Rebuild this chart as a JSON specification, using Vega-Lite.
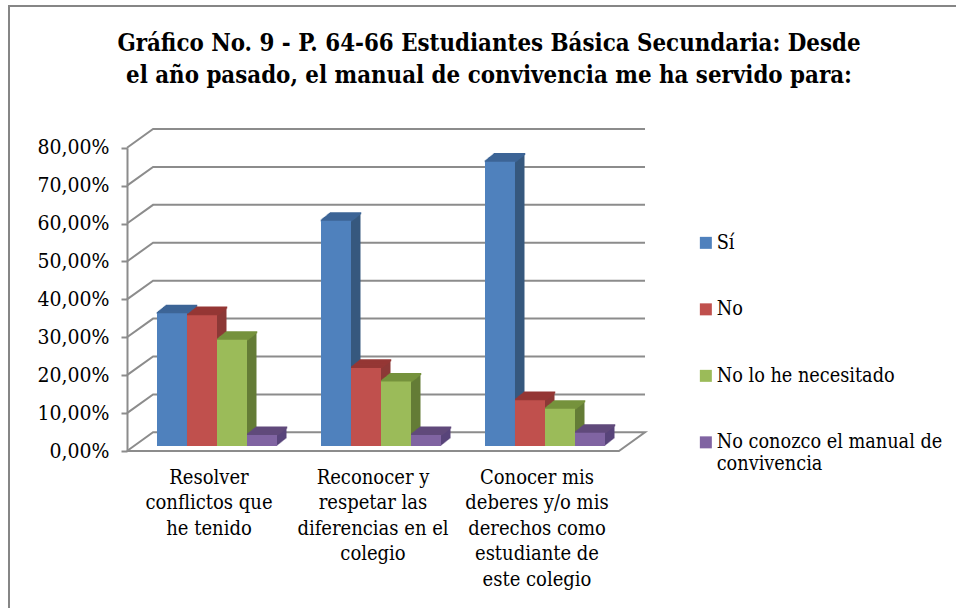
{"$schema":"https://vega.github.io/schema/vega-lite/v6.json","autosize":"none","width":949,"height":604,"padding":{"left":9,"top":6,"right":0,"bottom":0},"background":"white","view":{"stroke":"#868686","strokeWidth":2},
"title":{"text":["Gráfico No. 9 - P. 64-66 Estudiantes Básica Secundaria: Desde","el año pasado, el manual de convivencia me ha servido para:"],"font":"DejaVu Serif Condensed","fontSize":23.8,"fontWeight":"bold","color":"#000000","lineHeight":32,"anchor":"middle","dx":5.5,"offset":-82,"baseline":"top"},
"datasets":{"bars":[
{"c":"Resolver conflictos que he tenido","s":"Sí","v":35},{"c":"Resolver conflictos que he tenido","s":"No","v":34.5},{"c":"Resolver conflictos que he tenido","s":"No lo he necesitado","v":28},{"c":"Resolver conflictos que he tenido","s":"No conozco el manual de convivencia","v":2.9},
{"c":"Reconocer y respetar las diferencias en el colegio","s":"Sí","v":59.4},{"c":"Reconocer y respetar las diferencias en el colegio","s":"No","v":20.6},{"c":"Reconocer y respetar las diferencias en el colegio","s":"No lo he necesitado","v":17},{"c":"Reconocer y respetar las diferencias en el colegio","s":"No conozco el manual de convivencia","v":2.9},
{"c":"Conocer mis deberes y/o mis derechos como estudiante de este colegio","s":"Sí","v":75},{"c":"Conocer mis deberes y/o mis derechos como estudiante de este colegio","s":"No","v":12.1},{"c":"Conocer mis deberes y/o mis derechos como estudiante de este colegio","s":"No lo he necesitado","v":9.8},{"c":"Conocer mis deberes y/o mis derechos como estudiante de este colegio","s":"No conozco el manual de convivencia","v":3.5}],
"wall":[
{"t":"10","o":1,"a":0,"b":10},{"t":"10","o":2,"a":5.3,"b":14.93},{"t":"10","o":3,"a":105.3,"b":14.93},
{"t":"20","o":1,"a":0,"b":20},{"t":"20","o":2,"a":5.3,"b":24.93},{"t":"20","o":3,"a":105.3,"b":24.93},
{"t":"30","o":1,"a":0,"b":30},{"t":"30","o":2,"a":5.3,"b":34.93},{"t":"30","o":3,"a":105.3,"b":34.93},
{"t":"40","o":1,"a":0,"b":40},{"t":"40","o":2,"a":5.3,"b":44.93},{"t":"40","o":3,"a":105.3,"b":44.93},
{"t":"50","o":1,"a":0,"b":50},{"t":"50","o":2,"a":5.3,"b":54.93},{"t":"50","o":3,"a":105.3,"b":54.93},
{"t":"60","o":1,"a":0,"b":60},{"t":"60","o":2,"a":5.3,"b":64.93},{"t":"60","o":3,"a":105.3,"b":64.93},
{"t":"70","o":1,"a":0,"b":70},{"t":"70","o":2,"a":5.3,"b":74.93},{"t":"70","o":3,"a":105.3,"b":74.93},
{"t":"80","o":1,"a":0,"b":80},{"t":"80","o":2,"a":5.3,"b":84.93},{"t":"80","o":3,"a":105.3,"b":84.93},
{"t":"0","o":1,"a":0,"b":0},{"t":"0","o":2,"a":100,"b":0},{"t":"0","o":3,"a":105.3,"b":4.93},{"t":"0","o":4,"a":5.3,"b":4.93},{"t":"0","o":5,"a":0,"b":0}]},
"resolve":{"scale":{"x":"independent"}},
"layer":[
{"data":{"name":"wall"},"mark":{"type":"line","color":"#8c8c8c","strokeWidth":2,"clip":false},"encoding":{"x":{"field":"a","type":"quantitative","scale":{"domain":[0,105.3],"range":[118,636],"nice":false,"zero":false},"axis":null},"y":{"field":"b","type":"quantitative","scale":{"domain":[0,80],"range":[445,141.7],"nice":false},"axis":{"title":null,"orient":"left","offset":-118,"values":[0,10,20,30,40,50,60,70,80],"grid":false,"domainColor":"#8c8c8c","domainWidth":2,"tickColor":"#8c8c8c","tickWidth":2,"tickSize":6,"labelPadding":12,"labelFont":"DejaVu Serif Condensed","labelFontSize":21,"labelColor":"#000000","labelExpr":"replace(format(datum.value,'.2f'),'.',',')+'%'"}},"detail":{"field":"t"},"order":{"field":"o","type":"quantitative"}}},
{"data":{"name":"bars"},"resolve":{"scale":{"x":"independent"}},
"encoding":{
"xOffset":{"field":"s","type":"nominal","sort":null,"scale":{"domain":["Sí","No","No lo he necesitado","No conozco el manual de convivencia"],"range":[0,164],"paddingInner":0,"paddingOuter":0.7333}},
"y":{"field":"v","type":"quantitative"}},
"layer":[
{"mark":{"type":"bar","yOffset":-12.6},"encoding":{"fill":{"field":"s","type":"nominal","scale":{"domain":["No","Sí","No lo he necesitado","No conozco el manual de convivencia"],"range":["#8c3836","#37587f","#647c36","#58447a"]},"legend":null},"x":{"field":"c","type":"nominal","sort":null,"axis":null,"scale":{"range":[135.5,627.5],"paddingInner":0,"paddingOuter":0}}}},
{"mark":{"type":"bar","yOffset":-11.8},"encoding":{"fill":{"field":"s","type":"nominal","legend":null},"x":{"field":"c","type":"nominal","sort":null,"axis":null,"scale":{"range":[134.5,626.5],"paddingInner":0,"paddingOuter":0}}}},
{"mark":{"type":"bar","yOffset":-11},"encoding":{"fill":{"field":"s","type":"nominal","legend":null},"x":{"field":"c","type":"nominal","sort":null,"axis":null,"scale":{"range":[133.5,625.5],"paddingInner":0,"paddingOuter":0}}}},
{"mark":{"type":"bar","yOffset":-10.2},"encoding":{"fill":{"field":"s","type":"nominal","legend":null},"x":{"field":"c","type":"nominal","sort":null,"axis":null,"scale":{"range":[132.5,624.5],"paddingInner":0,"paddingOuter":0}}}},
{"mark":{"type":"bar","yOffset":-9.4},"encoding":{"fill":{"field":"s","type":"nominal","legend":null},"x":{"field":"c","type":"nominal","sort":null,"axis":null,"scale":{"range":[131.5,623.5],"paddingInner":0,"paddingOuter":0}}}},
{"mark":{"type":"bar","yOffset":-8.6},"encoding":{"fill":{"field":"s","type":"nominal","legend":null},"x":{"field":"c","type":"nominal","sort":null,"axis":null,"scale":{"range":[130.5,622.5],"paddingInner":0,"paddingOuter":0}}}},
{"mark":{"type":"bar","yOffset":-7.8},"encoding":{"fill":{"field":"s","type":"nominal","legend":null},"x":{"field":"c","type":"nominal","sort":null,"axis":null,"scale":{"range":[129.5,621.5],"paddingInner":0,"paddingOuter":0}}}},
{"mark":{"type":"bar","yOffset":-7},"encoding":{"fill":{"field":"s","type":"nominal","legend":null},"x":{"field":"c","type":"nominal","sort":null,"axis":null,"scale":{"range":[128.5,620.5],"paddingInner":0,"paddingOuter":0}}}},
{"mark":{"type":"bar","yOffset":-6.2},"encoding":{"fill":{"field":"s","type":"nominal","legend":null},"x":{"field":"c","type":"nominal","sort":null,"axis":null,"scale":{"range":[127.5,619.5],"paddingInner":0,"paddingOuter":0}}}},
{"mark":{"type":"bar","yOffset":-5.4},"encoding":{"fill":{"field":"s","type":"nominal","legend":null},"x":{"field":"c","type":"nominal","sort":null,"axis":null,"scale":{"range":[126.5,618.5],"paddingInner":0,"paddingOuter":0}}}},
{"mark":{"type":"tick","size":30,"thickness":0.5,"fillOpacity":0,"strokeWidth":1.5,"yOffset":-12.6},"encoding":{"stroke":{"field":"s","type":"nominal","scale":{"domain":["No lo he necesitado","Sí","No","No conozco el manual de convivencia"],"range":["#76923c","#3d6596","#953735","#604a7b"]},"legend":null},"x":{"field":"c","type":"nominal","sort":null,"axis":null,"scale":{"range":[135.5,627.5],"paddingInner":0,"paddingOuter":0}}}},
{"mark":{"type":"tick","size":30,"thickness":0.5,"fillOpacity":0,"strokeWidth":1.5,"yOffset":-11.8},"encoding":{"stroke":{"field":"s","type":"nominal","legend":null},"x":{"field":"c","type":"nominal","sort":null,"axis":null,"scale":{"range":[134.5,626.5],"paddingInner":0,"paddingOuter":0}}}},
{"mark":{"type":"tick","size":30,"thickness":0.5,"fillOpacity":0,"strokeWidth":1.5,"yOffset":-11},"encoding":{"stroke":{"field":"s","type":"nominal","legend":null},"x":{"field":"c","type":"nominal","sort":null,"axis":null,"scale":{"range":[133.5,625.5],"paddingInner":0,"paddingOuter":0}}}},
{"mark":{"type":"tick","size":30,"thickness":0.5,"fillOpacity":0,"strokeWidth":1.5,"yOffset":-10.2},"encoding":{"stroke":{"field":"s","type":"nominal","legend":null},"x":{"field":"c","type":"nominal","sort":null,"axis":null,"scale":{"range":[132.5,624.5],"paddingInner":0,"paddingOuter":0}}}},
{"mark":{"type":"tick","size":30,"thickness":0.5,"fillOpacity":0,"strokeWidth":1.5,"yOffset":-9.4},"encoding":{"stroke":{"field":"s","type":"nominal","legend":null},"x":{"field":"c","type":"nominal","sort":null,"axis":null,"scale":{"range":[131.5,623.5],"paddingInner":0,"paddingOuter":0}}}},
{"mark":{"type":"tick","size":30,"thickness":0.5,"fillOpacity":0,"strokeWidth":1.5,"yOffset":-8.6},"encoding":{"stroke":{"field":"s","type":"nominal","legend":null},"x":{"field":"c","type":"nominal","sort":null,"axis":null,"scale":{"range":[130.5,622.5],"paddingInner":0,"paddingOuter":0}}}},
{"mark":{"type":"tick","size":30,"thickness":0.5,"fillOpacity":0,"strokeWidth":1.5,"yOffset":-7.8},"encoding":{"stroke":{"field":"s","type":"nominal","legend":null},"x":{"field":"c","type":"nominal","sort":null,"axis":null,"scale":{"range":[129.5,621.5],"paddingInner":0,"paddingOuter":0}}}},
{"mark":{"type":"tick","size":30,"thickness":0.5,"fillOpacity":0,"strokeWidth":1.5,"yOffset":-7},"encoding":{"stroke":{"field":"s","type":"nominal","legend":null},"x":{"field":"c","type":"nominal","sort":null,"axis":null,"scale":{"range":[128.5,620.5],"paddingInner":0,"paddingOuter":0}}}},
{"mark":{"type":"tick","size":30,"thickness":0.5,"fillOpacity":0,"strokeWidth":1.5,"yOffset":-6.2},"encoding":{"stroke":{"field":"s","type":"nominal","legend":null},"x":{"field":"c","type":"nominal","sort":null,"axis":null,"scale":{"range":[127.5,619.5],"paddingInner":0,"paddingOuter":0}}}},
{"mark":{"type":"tick","size":30,"thickness":0.5,"fillOpacity":0,"strokeWidth":1.5,"yOffset":-5.4},"encoding":{"stroke":{"field":"s","type":"nominal","legend":null},"x":{"field":"c","type":"nominal","sort":null,"axis":null,"scale":{"range":[126.5,618.5],"paddingInner":0,"paddingOuter":0}}}},
{"mark":{"type":"bar","yOffset":-5},"encoding":{"color":{"field":"s","type":"nominal","scale":{"domain":["Sí","No","No lo he necesitado","No conozco el manual de convivencia"],"range":["#4f81bd","#c0504d","#9bbb59","#8064a2"]},"legend":{"title":null,"orient":"none","legendX":687,"legendY":227,"symbolType":"square","symbolSize":144,"symbolStrokeWidth":0,"labelFont":"DejaVu Serif Condensed","labelFontSize":19.7,"labelColor":"#000000","rowPadding":45.5,"labelLimit":300,"labelLineHeight":25,"labelOffset":1,"labelExpr":"indexof(datum.label,'No conozco')==0?['No conozco el manual de','convivencia']:datum.label"}},"x":{"field":"c","type":"nominal","sort":null,"scale":{"range":[126,618],"paddingInner":0,"paddingOuter":0},"axis":{"title":null,"orient":"bottom","offset":-159,"domain":false,"ticks":false,"labelAngle":0,"labelAlign":"center","labelBaseline":"top","labelPadding":16,"labelOffset":-8,"labelFont":"DejaVu Serif Condensed","labelFontSize":20,"labelColor":"#000000","labelLineHeight":25.5,"labelLimit":0,"labelExpr":"indexof(datum.label,'Resolver')==0?['Resolver','conflictos que','he tenido']:indexof(datum.label,'Reconocer')==0?['Reconocer y','respetar las','diferencias en el','colegio']:['Conocer mis','deberes y/o mis','derechos como','estudiante de','este colegio']"}}}}
]}
]}
